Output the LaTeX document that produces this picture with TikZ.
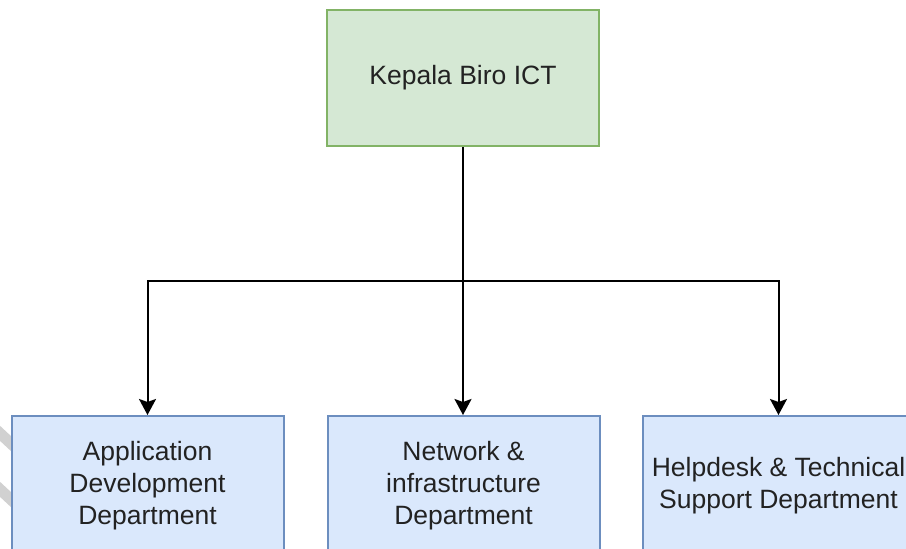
\documentclass[tikz,border=0pt]{standalone}
\usepackage{fontspec}
\setmainfont{Liberation Sans}
\usetikzlibrary{arrows.meta}
\definecolor{gfill}{HTML}{D5E8D4}
\definecolor{gline}{HTML}{82B366}
\definecolor{bfill}{HTML}{DAE8FC}
\definecolor{bline}{HTML}{6C8EBF}
\definecolor{txt}{HTML}{222222}
\tikzset{
  box/.style={rectangle, line width=2pt, inner sep=0pt, align=center,
    text=txt, font=\fontsize{26.5}{32}\selectfont, minimum width=272pt},
  greenbox/.style={box, draw=gline, fill=gfill, minimum height=136pt},
  bluebox/.style={box, draw=bline, fill=bfill, minimum height=140pt},
  conn/.style={line width=2pt, -{Stealth[width=17pt,length=16pt,inset=3pt]}},
  mark stroke/.style={line width=11pt, draw=black!18}
}
\begin{document}
\begin{tikzpicture}[x=1pt,y=-1pt]
\useasboundingbox (0,0) rectangle (906,549);
\clip (0,0) rectangle (906,549);
\fill[white] (0,0) rectangle (906,549);
% faint background strokes
\draw[mark stroke] (-10,424) -- (20,452);
\draw[mark stroke] (-10,480) -- (20,508);
\node[greenbox] (boss) at (463,78) {Kepala Biro ICT};
\node[bluebox] (app) at (147.5,486) {Application\\Development\\Department};
\node[bluebox] (net) at (463.5,486) {Network \&\\infrastructure\\Department};
\node[bluebox] (help) at (778.5,486) {Helpdesk \& Technical\\Support Department};
\coordinate (j) at (463,281);
\draw[conn] (boss.south) -- (boss.south |- net.north);
\draw[conn] (j) -| (app.north);
\draw[conn] (j) -| (help.north);
\end{tikzpicture}
\end{document}
